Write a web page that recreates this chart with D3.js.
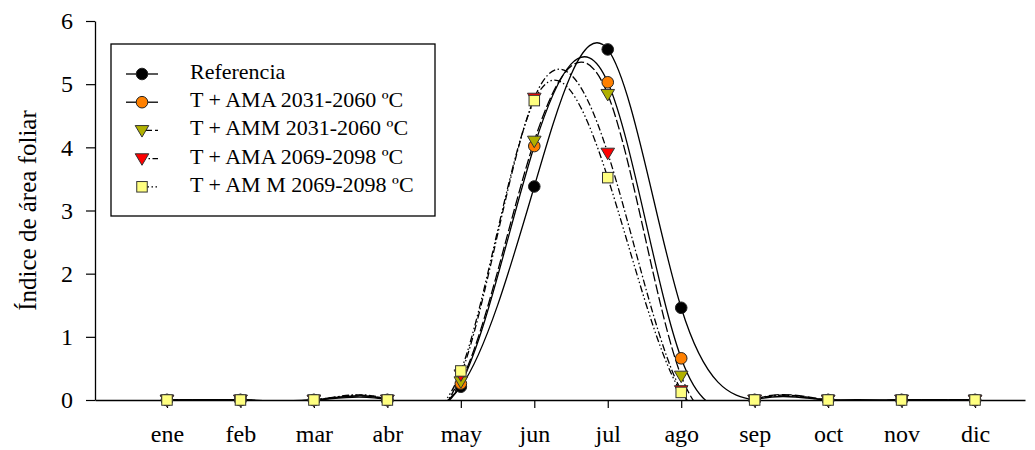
<!DOCTYPE html>
<html>
<head>
<meta charset="utf-8">
<script src="https://cdn.jsdelivr.net/npm/d3@7"></script>
<style>
  body { margin: 0; background: #fff; }
  svg { display: block; font-family: "Liberation Serif", "Times New Roman", serif; }
</style>
</head>
<body>
<svg id="chart" width="1035" height="450"></svg>
<script>
// Months (x categories) and monthly leaf area index per scenario
const months = ["ene", "feb", "mar", "abr", "may", "jun", "jul", "ago", "sep", "oct", "nov", "dic"];
const monthIndex = [1, 2, 3, 4, 5, 6, 7, 8, 9, 10, 11, 12];
const referencia = [0, 0, 0, 0, 0.21, 3.38, 5.55, 1.46, 0, 0, 0, 0];
const ama2031    = [0, 0, 0, 0, 0.26, 4.02, 5.03, 0.66, 0, 0, 0, 0];
const amm2031    = [0, 0, 0, 0, 0.29, 4.10, 4.84, 0.38, 0, 0, 0, 0];
const ama2069    = [0, 0, 0, 0, 0.40, 4.78, 3.91, 0.15, 0, 0, 0, 0];
const amm2069    = [0, 0, 0, 0, 0.46, 4.74, 3.52, 0.12, 0, 0, 0, 0];
const yTicks = [0, 1, 2, 3, 4, 5, 6];

const seriesNames = [
  "Referencia",
  "T + AMA 2031-2060  \u00BAC",
  "T + AMM 2031-2060 \u00BAC",
  "T + AMA 2069-2098 \u00BAC",
  "T + AM M 2069-2098 \u00BAC"
];

// Line and symbol style per scenario; legend key lines for dashed series start at the symbol
const series = [
  { name: seriesNames[0], values: referencia, symbol: "circle",  fill: "#000000", dash: null, keyFrom: 126, keyOffset: 0 },
  { name: seriesNames[1], values: ama2031,    symbol: "circle",  fill: "#FF8000", dash: null, keyFrom: 126, keyOffset: 0 },
  { name: seriesNames[2], values: amm2031,    symbol: "triDown", fill: "#B0B000", dash: "10,3", keyFrom: 142, keyOffset: 0 },
  { name: seriesNames[3], values: ama2069,    symbol: "triDown", fill: "#FF0000", dash: "7,2.5,1.5,2.5", keyFrom: 146, keyOffset: 7 },
  { name: seriesNames[4], values: amm2069,    symbol: "square",  fill: "#FFFF80", dash: "7,2.5,1.5,2.5,1.5,2.5", keyFrom: 146, keyOffset: 4 }
];

const svg = d3.select("#chart");

const x = d3.scaleLinear().domain([0.02, 12.68]).range([95, 1025]);
const y = d3.scaleLinear().domain([0, 6]).range([400, 21]);

// Clip the smoothed curves to the plotting region
svg.append("defs").append("clipPath").attr("id", "plot-clip")
  .append("rect")
  .attr("x", x.range()[0]).attr("y", y(6))
  .attr("width", x.range()[1] - x.range()[0])
  .attr("height", y(0) - y(6) + 0.5);

// Axes
const xAxis = d3.axisBottom(x)
  .tickValues(monthIndex)
  .tickFormat((d, i) => months[i])
  .tickSizeInner(8).tickSizeOuter(0).tickPadding(17);
const yAxis = d3.axisLeft(y)
  .tickValues(yTicks)
  .tickFormat(d3.format("d"))
  .tickSizeInner(9).tickSizeOuter(0).tickPadding(13);

const gx = svg.append("g").attr("transform", `translate(0,${y(0)})`).call(xAxis);
const gy = svg.append("g").attr("transform", `translate(${x.range()[0]},0)`).call(yAxis);
[gx, gy].forEach(g => {
  g.selectAll("path.domain").attr("stroke", "#000").attr("stroke-width", 1.3);
  g.selectAll(".tick line").attr("stroke", "#000").attr("stroke-width", 1.2);
  g.selectAll(".tick text").attr("fill", "#000").attr("font-size", 24)
    .attr("font-family", "Liberation Serif, Times New Roman, serif");
});

// Y axis title
svg.append("text")
  .attr("transform", `translate(30,${(y(0) + y(6)) / 2}) rotate(-90)`)
  .attr("text-anchor", "middle")
  .attr("dominant-baseline", "middle")
  .attr("font-size", 25)
  .text("\u00CDndice de \u00E1rea foliar");

// Smoothed spline curves
const line = d3.line()
  .x((d, i) => x(monthIndex[i]))
  .y(d => y(d))
  .curve(d3.curveNatural);

const curves = svg.append("g").attr("clip-path", "url(#plot-clip)");
series.forEach(s => {
  curves.append("path")
    .attr("d", line(s.values))
    .attr("fill", "none")
    .attr("stroke", "#000")
    .attr("stroke-width", 1.3)
    .attr("stroke-dasharray", s.dash);
});

// Marker shapes
function drawSymbol(g, type, cx, cy, fill) {
  if (type === "circle") {
    g.append("circle").attr("cx", cx).attr("cy", cy).attr("r", 5.8)
      .attr("fill", fill).attr("stroke", "#222").attr("stroke-width", 1);
  } else if (type === "triDown") {
    const w = 6.8, h = 11.5;
    g.append("path")
      .attr("d", `M${cx - w},${cy - h * 0.42}L${cx + w},${cy - h * 0.42}L${cx},${cy + h * 0.58}Z`)
      .attr("fill", fill).attr("stroke", "#333").attr("stroke-width", 1);
  } else {
    const a = 10.5;
    g.append("rect").attr("x", cx - a / 2).attr("y", cy - a / 2)
      .attr("width", a).attr("height", a)
      .attr("fill", fill).attr("stroke", "#333").attr("stroke-width", 1);
  }
}

const marks = svg.append("g");
series.forEach(s => {
  s.values.forEach((v, i) => drawSymbol(marks, s.symbol, x(monthIndex[i]), y(v), s.fill));
});

// Legend
const legend = svg.append("g");
legend.append("rect")
  .attr("x", 111).attr("y", 44).attr("width", 324).attr("height", 172)
  .attr("fill", "#fff").attr("stroke", "#000").attr("stroke-width", 1.3);
series.forEach((s, i) => {
  const ly = 74 + i * 28.2;
  legend.append("line")
    .attr("x1", s.keyFrom).attr("x2", 158).attr("y1", ly).attr("y2", ly)
    .attr("stroke", "#000").attr("stroke-width", 1.3)
    .attr("stroke-dasharray", s.dash)
    .attr("stroke-dashoffset", s.keyOffset);
  drawSymbol(legend, s.symbol, 142, ly, s.fill);
  legend.append("text")
    .attr("x", 190).attr("y", ly)
    .attr("dominant-baseline", "middle")
    .attr("font-size", 22)
    .text(s.name);
});
</script>
</body>
</html>
